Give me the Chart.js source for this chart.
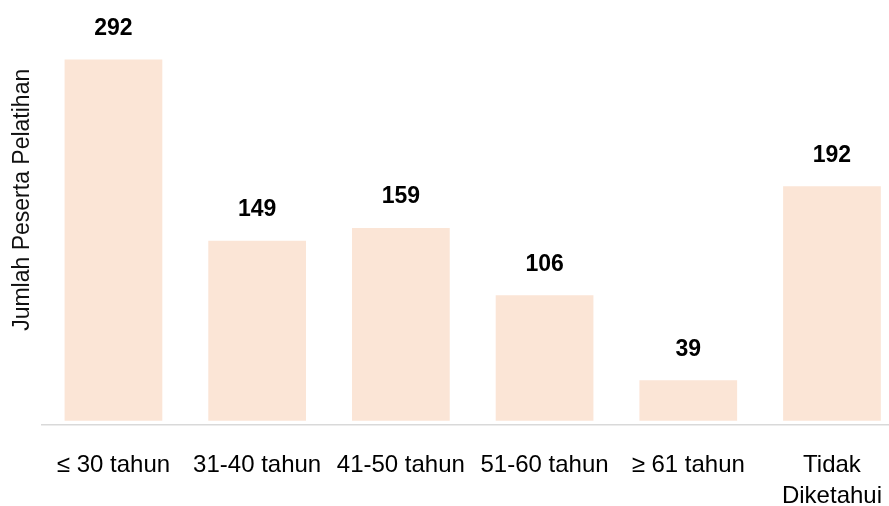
<!DOCTYPE html>
<html>
<head>
<meta charset="utf-8">
<script src="https://cdn.jsdelivr.net/npm/chart.js@4"></script>
<style>
  html, body { margin: 0; padding: 0; background: #fff; overflow: hidden; }
  /* area grafik sedikit lebih besar dari jendela, seperti aslinya yang terpotong */
  #wrap { position: absolute; left: 0; top: -25px; width: 907px; height: 562px; }
</style>
</head>
<body>
<div id="wrap"><canvas id="age_chart"></canvas></div>
<script>
const xLabels = ["≤ 30 tahun", "31-40 tahun", "41-50 tahun", "51-60 tahun", "≥ 61 tahun", ["Tidak", "Diketahui"]];
const yValues = [292, 149, 159, 106, 39, 192];
const barColor = "#FBE5D6";

// angka di atas batang
const valueLabels = {
  id: "valueLabels",
  afterDatasetsDraw(chart) {
    const ctx = chart.ctx;
    const meta = chart.getDatasetMeta(0);
    ctx.save();
    ctx.font = "bold 23px 'Liberation Sans', Arial, sans-serif";
    ctx.fillStyle = "#000";
    ctx.textAlign = "center";
    ctx.textBaseline = "middle";
    meta.data.forEach((bar, i) => {
      ctx.fillText(yValues[i], bar.x, bar.y - 31);
    });
    ctx.restore();
  }
};

new Chart("age_chart", {
  type: "bar",
  data: {
    labels: xLabels,
    datasets: [{
      data: yValues,
      backgroundColor: barColor,
      base: 7,
      barPercentage: 0.68,
      categoryPercentage: 1
    }]
  },
  options: {
    responsive: true,
    maintainAspectRatio: false,
    animation: false,
    layout: { padding: { left: 9, right: 0, top: 0, bottom: 0 } },
    plugins: {
      legend: { display: false },
      tooltip: { enabled: false }
    },
    scales: {
      x: {
        grid: { display: false, drawTicks: false },
        border: { display: true, color: "#d9d9d9", width: 1.5 },
        ticks: {
          color: "#000",
          padding: 25,
          maxRotation: 0,
          autoSkip: false,
          font: { family: "'Liberation Sans', Arial, sans-serif", size: 24, lineHeight: 1.3 }
        }
      },
      y: {
        min: 4,
        max: 358.6,
        grid: { display: false, drawTicks: false },
        border: { display: false },
        ticks: { display: false },
        title: {
          display: true,
          text: "Jumlah Peserta Pelatihan",
          color: "#111",
          padding: { top: 0, bottom: 5 },
          font: { family: "'Liberation Sans', Arial, sans-serif", size: 23, lineHeight: 1.2 }
        }
      }
    }
  },
  plugins: [valueLabels]
});
</script>
</body>
</html>
